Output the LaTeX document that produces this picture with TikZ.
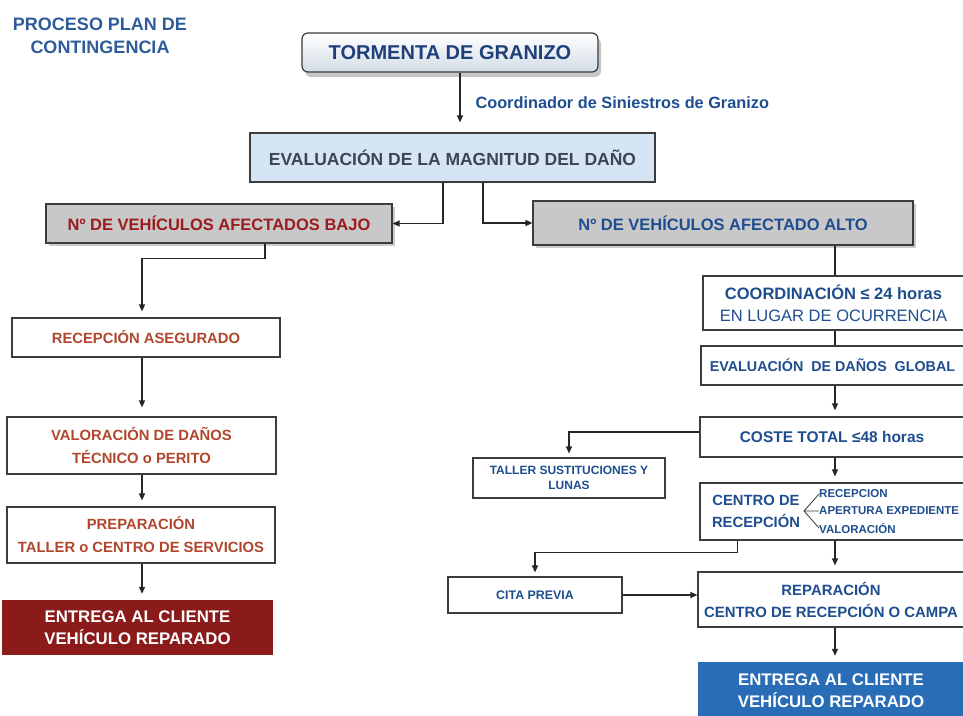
\documentclass[tikz,border=0pt]{standalone}
\usepackage{fontspec}
\setmainfont{Liberation Sans}
\usetikzlibrary{arrows.meta, shadows, positioning}

\definecolor{titleblue}{HTML}{2E5C9A}
\definecolor{navy}{HTML}{1F3F7A}
\definecolor{rblue}{HTML}{1E4E8F}
\definecolor{evaltext}{HTML}{3A4656}
\definecolor{bajored}{HTML}{9C1B1F}
\definecolor{brick}{HTML}{B0472D}
\definecolor{boxgray}{HTML}{C8C8C8}
\definecolor{evalfill}{HTML}{D5E5F4}
\definecolor{stormfill}{HTML}{D3DCE6}
\definecolor{darkred}{HTML}{8B1A1A}
\definecolor{bluefill}{HTML}{2A6DB7}
\definecolor{boxline}{HTML}{3C3C3C}

\newcommand{\fsz}[2]{\fontsize{#1pt}{#2pt}\selectfont}

\begin{document}
\begin{tikzpicture}[x=1pt, y=-1pt, > = {Triangle[length=7pt, width=6pt]},
    box/.style={draw=boxline, line width=1.2pt, fill=white, inner sep=0pt, align=center},
    graybox/.style={box, fill=boxgray, drop shadow={shadow xshift=3pt, shadow yshift=-3pt, opacity=.4}},
    fullbox/.style={inner sep=0pt, align=center, text=white, font=\bfseries\fsz{16.8}{22}},
    conn/.style={line width=1.2pt, black!85},
    arr/.style={conn, ->, shorten >=6pt}]
    \useasboundingbox (0,0) rectangle (963,715);
    \clip (0,0) rectangle (963,715);
    % columnas
    \coordinate (lspine) at (142,0);
    \coordinate (rspine) at (835,0);

    % cabecera
    \node [text=titleblue, align=center, font=\bfseries\fsz{18}{23}] (title) at (100,36)
        {PROCESO PLAN DE\\CONTINGENCIA};
    \node [box, rounded corners=6pt, top color=white, bottom color=stormfill,
        minimum width=296pt, minimum height=39pt, text=navy, font=\bfseries\fsz{20}{22},
        drop shadow={shadow xshift=3pt, shadow yshift=-5pt, opacity=.45}] (storm) at (450,52.5)
        {TORMENTA DE GRANIZO};
    \node [anchor=west, text=rblue, font=\bfseries\fsz{16.3}{18}] (coordlbl) at (472,103)
        {Coordinador de Siniestros de Granizo};
    \node [box, fill=evalfill, minimum width=405pt, minimum height=49pt, text=evaltext,
        font=\bfseries\fsz{17.5}{20}] (eval) at (452.5,157.5)
        {EVALUACIÓN DE LA MAGNITUD DEL DAÑO};
    \node [graybox, minimum width=346pt, minimum height=39pt, text=bajored,
        font=\bfseries\fsz{16.5}{18}] (bajo) at (219,223.5)
        {Nº DE VEHÍCULOS AFECTADOS BAJO};
    \node [graybox, minimum width=380pt, minimum height=44pt, text=rblue,
        font=\bfseries\fsz{16.5}{18}] (alto) at (723,223)
        {Nº DE VEHÍCULOS AFECTADO ALTO};

    % rama baja
    \node [box, minimum width=268pt, minimum height=39pt, text=brick, font=\bfseries\fsz{14.8}{22}]
        (recep) at (146,337.5) {RECEPCIÓN ASEGURADO};
    \node [box, minimum width=269pt, minimum height=57pt, text=brick, font=\bfseries\fsz{14.8}{23}]
        (valor) at (141.5,445.5) {VALORACIÓN DE DAÑOS\\TÉCNICO o PERITO};
    \node [box, minimum width=268pt, minimum height=56pt, text=brick, font=\bfseries\fsz{14.8}{23}]
        (prep) at (141,535) {PREPARACIÓN\\TALLER o CENTRO DE SERVICIOS};
    \node [fullbox, fill=darkred, minimum width=271pt, minimum height=55pt]
        (entregaL) at (137.5,627.5) {ENTREGA AL CLIENTE\\VEHÍCULO REPARADO};

    % rama alta
    \node [box, minimum width=261pt, minimum height=54pt, text=rblue, font=\fsz{16.5}{22}]
        (coord) at (833.5,303) {\textbf{COORDINACIÓN ≤ 24 horas}\\EN LUGAR DE OCURRENCIA};
    \node [box, minimum width=263pt, minimum height=39pt, text=rblue, font=\bfseries\fsz{14.3}{18}]
        (global) at (832.5,365.5) {EVALUACIÓN~ DE DAÑOS~ GLOBAL};
    \node [box, minimum width=264pt, minimum height=40pt, text=rblue, font=\bfseries\fsz{15.5}{18}]
        (coste) at (832,437) {COSTE TOTAL ≤48 horas};
    \node [box, minimum width=192pt, minimum height=40pt, text=rblue, font=\bfseries\fsz{12}{15}]
        (taller) at (569,478) {TALLER SUSTITUCIONES Y\\LUNAS};
    \node [box, minimum width=264pt, minimum height=57pt] (centro) at (832,511.5) {};
    \node [text=rblue, align=center, font=\bfseries\fsz{14.8}{22}] (cdr) at (756,511)
        {CENTRO DE\\RECEPCIÓN};
    \node [anchor=west, inner sep=0pt, text=rblue, font=\bfseries\fsz{11.5}{13}] (it1) at (819,494) {RECEPCION};
    \node [anchor=west, inner sep=0pt, text=rblue, font=\bfseries\fsz{11.5}{13}] (it2) at (819,511) {APERTURA EXPEDIENTE};
    \node [anchor=west, inner sep=0pt, text=rblue, font=\bfseries\fsz{11.5}{13}] (it3) at (819,528) {VALORACIÓN};
    \coordinate (tip) at (804,511);
    \draw [line width=0.8pt, black!80] (it1.west) -- (tip) -- (it3.west) (tip) -- (it2.west);
    \node [box, minimum width=174pt, minimum height=36pt, text=rblue, font=\bfseries\fsz{12.4}{14}]
        (cita) at (535,595) {CITA PREVIA};
    \node [box, minimum width=266pt, minimum height=55pt, text=rblue, font=\bfseries\fsz{14.9}{22}]
        (repar) at (831,599.5) {REPARACIÓN\\CENTRO DE RECEPCIÓN O CAMPA};
    \node [fullbox, fill=bluefill, minimum width=266pt, minimum height=58pt]
        (entregaR) at (831,691) {ENTREGA AL CLIENTE\\VEHÍCULO REPARADO};

    % conectores
    \draw [arr, shorten >=10pt] ([xshift=10pt]storm.south) -- ([xshift=7.5pt]eval.north);
    \draw [conn, ->] ([xshift=-9.5pt]eval.south) |- (bajo.east);
    \draw [conn, ->] ([xshift=30.5pt]eval.south) |- (alto.west);
    \draw [arr] ([xshift=46pt]bajo.south) -- ++(0,15) -| (recep.north -| lspine);
    \draw [arr, shorten >=9pt] (recep.south -| lspine) -- (valor.north -| lspine);
    \draw [arr] (valor.south -| lspine) -- (prep.north -| lspine);
    \draw [arr] (prep.south -| lspine) -- (entregaL.north -| lspine);

    \draw [conn] (alto.south -| rspine) -- (coord.north -| rspine);
    \draw [conn] (coord.south -| rspine) -- (global.north -| rspine);
    \draw [arr] (global.south -| rspine) -- (coste.north -| rspine);
    \draw [arr, shorten >=4pt] ([yshift=5pt]coste.west) -| (taller.north);
    \draw [arr] (coste.south -| rspine) -- (centro.north -| rspine);
    \draw [arr] (centro.south -| rspine) -- (repar.north -| rspine);
    \draw [arr, shorten >=4pt] ([xshift=38pt]centro.south west) -- ++(0,12) -| (cita.north);
    \draw [conn, ->] (cita.east) -- (cita.east -| repar.west);
    \draw [arr] (repar.south -| rspine) -- (entregaR.north -| rspine);
\end{tikzpicture}
\end{document}
